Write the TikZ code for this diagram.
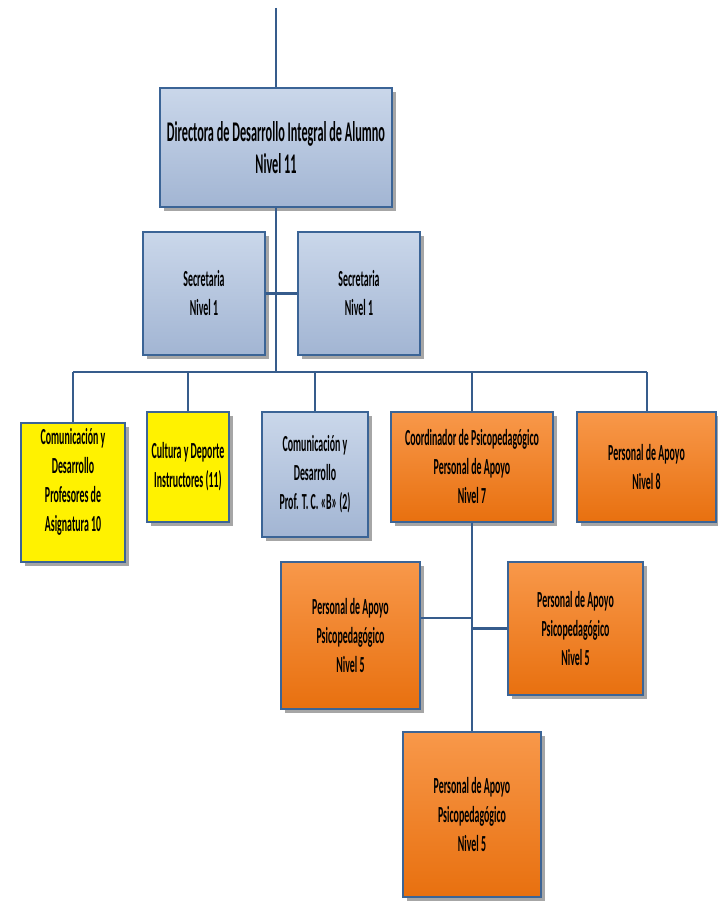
\documentclass[tikz,border=0pt]{standalone}
\usepackage{fontspec}
\setmainfont{Carlito}[FakeStretch=0.43]
\usepackage{tikz}
\usetikzlibrary{shadows}

\definecolor{boxline}{HTML}{3B6496}
\definecolor{linkblue}{HTML}{365C8C}
\definecolor{blueTop}{HTML}{CAD7EA}
\definecolor{blueBot}{HTML}{A2B5D3}
\definecolor{orangeTop}{HTML}{F8984A}
\definecolor{orangeBot}{HTML}{E8700F}

\begin{document}
\begin{tikzpicture}[
        x=1pt, y=-1pt,
        orgbox/.style={draw=boxline, line width=1.5pt, align=center, inner sep=0pt,
            font=\fontsize{23}{29}\selectfont\bfseries,
            drop shadow={shadow xshift=4pt, shadow yshift=-4pt, fill=black!50, opacity=0.7}},
        bluebox/.style={orgbox, top color=blueTop, bottom color=blueBot},
        orangebox/.style={orgbox, top color=orangeTop, bottom color=orangeBot},
        yellowbox/.style={orgbox, fill=yellow},
        link/.style={draw=linkblue, line width=2.8pt}
        ]
    \useasboundingbox (0,0) rectangle (717,901);

    \node[bluebox, minimum width=232pt, minimum height=119pt, font=\fontsize{28.5}{32}\selectfont\bfseries] (dir) at (276,147.5)
        {Directora de Desarrollo Integral de Alumno\\Nivel 11};
    \node[bluebox, minimum width=122pt, minimum height=123pt] (sec1) at (204,293.5) {Secretaria\\Nivel 1};
    \node[bluebox, minimum width=122pt, minimum height=123pt] (sec2) at (359,293.5) {Secretaria\\Nivel 1};

    \node[yellowbox, minimum width=104pt, minimum height=139pt] (com1) at (73,492.5)
        {Comunicación y\\Desarrollo\\Profesores de\\Asignatura 10\rule[-26pt]{0pt}{26pt}};
    \node[yellowbox, minimum width=82pt, minimum height=110pt] (cul) at (188,467)
        {Cultura y Deporte\\Instructores (11)};
    \node[bluebox, minimum width=106pt, minimum height=125pt] (com2) at (315,474.5)
        {Comunicación y\\Desarrollo\\Prof. T. C. «B» (2)};
    \node[orangebox, minimum width=162pt, minimum height=110pt] (coord) at (472,467)
        {Coordinador de Psicopedagógico\\Personal de Apoyo\\Nivel 7};
    \node[orangebox, minimum width=139pt, minimum height=110pt] (pers8) at (646.5,467)
        {Personal de Apoyo\\Nivel 8};

    \node[orangebox, minimum width=139pt, minimum height=147pt] (psi1) at (350.5,635.5)
        {Personal de Apoyo\\Psicopedagógico\\Nivel 5};
    \node[orangebox, minimum width=135pt, minimum height=133pt] (psi2) at (575.5,628.5)
        {Personal de Apoyo\\Psicopedagógico\\Nivel 5};
    \node[orangebox, minimum width=138pt, minimum height=165pt] (psi3) at (472,814.5)
        {Personal de Apoyo\\Psicopedagógico\\Nivel 5};

    % connectors
    \coordinate (topend) at (276,8);
    \coordinate (bar) at (276,372);
    \coordinate (j1) at (472,618);
    \draw[link, line width=1.8pt] (topend) -- (dir.north);
    \draw[link] (dir.south) -- (bar);
    \draw[link] (sec1.east) -- (sec2.west);
    \draw[link] (com1.north |- bar) -- (pers8.north |- bar);
    \foreach \n in {com1,cul,com2,coord,pers8}
        \draw[link, line width=2pt] (\n.north |- bar) -- (\n.north);
    \draw[link] (coord.south) -- (psi3.north);
    \draw[link] (psi1.east |- j1) -- (j1);
    \draw[link] (psi2.west) -- (psi2.west -| coord.south);
\end{tikzpicture}
\end{document}
